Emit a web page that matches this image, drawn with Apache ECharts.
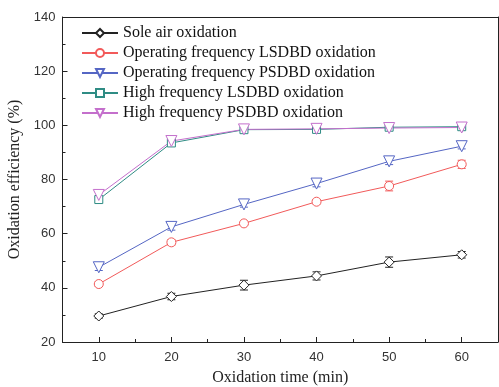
<!DOCTYPE html>
<html><head><meta charset="utf-8">
<script src="https://cdn.jsdelivr.net/npm/echarts@6/dist/echarts.min.js"></script>
<style>html,body{margin:0;padding:0;background:#fff}#c{width:499px;height:387px}</style>
</head><body><div id="c"></div>
<script>
var times = [10, 20, 30, 40, 50, 60];
var xTickLabels = ['10', '20', '30', '40', '50', '60'];
var seriesNames = ['Sole air oxidation', 'Operating frequency LSDBD oxidation', 'Operating frequency PSDBD oxidation', 'High frequency LSDBD oxidation', 'High frequency PSDBD oxidation'];
var soleAir = [29.6, 36.8, 41.0, 44.4, 49.5, 52.2];
var opLSDBD = [41.4, 56.8, 63.8, 71.8, 77.6, 85.6];
var opPSDBD = [47.6, 62.5, 70.8, 78.5, 86.7, 92.3];
var hfLSDBD = [72.6, 93.5, 98.4, 98.5, 99.3, 99.5];
var hfPSDBD = [74.3, 94.2, 98.5, 98.7, 99.0, 99.2];
var soleAirErr = [0.8, 1.2, 1.8, 1.5, 1.9, 1.2];
var opLSDBDErr = [0.8, 1.0, 0.8, 0.8, 1.8, 1.5];
var opPSDBDErr = [1.2, 1.2, 1.0, 1.2, 1.2, 1.0];
var hfLSDBDErr = [1.0, 0.8, 0.8, 0.8, 0.6, 0.6];
var hfPSDBDErr = [1.0, 0.8, 0.8, 0.8, 0.6, 0.6];

var values = [soleAir, opLSDBD, opPSDBD, hfLSDBD, hfPSDBD];
var errs = [soleAirErr, opLSDBDErr, opPSDBDErr, hfLSDBDErr, hfPSDBDErr];
var colors = ['#222222', '#f25a5a', '#5566c4', '#2f8c84', '#c46fcc'];
var symbols = ['diamond', 'circle', 'triangle', 'rect', 'triangle'];
var rotates = [0, 0, 180, 0, 180];
var sizes = [10, 9, 11, 8, 11];

var series = [];
values.forEach(function (v, i) {
  series.push({
    name: seriesNames[i], type: 'line',
    data: times.map(function (t, k) { return [t, v[k]]; }),
    symbol: symbols[i], symbolSize: sizes[i], symbolRotate: rotates[i],
    lineStyle: { color: colors[i], width: 1 },
    itemStyle: { color: '#fff', borderColor: colors[i], borderWidth: 1 },
    z: 3
  });
  series.push({
    type: 'custom', silent: true, z: 2,
    data: times.map(function (t, k) { return [t, v[k], errs[i][k]]; }),
    renderItem: function (params, api) {
      var x = api.value(0), y = api.value(1), e = api.value(2);
      var hi = api.coord([x, y + e]), lo = api.coord([x, y - e]);
      var w = 4;
      var st = { stroke: colors[i], lineWidth: 1 };
      return { type: 'group', children: [
        { type: 'line', shape: { x1: hi[0], y1: hi[1], x2: lo[0], y2: lo[1] }, style: st },
        { type: 'line', shape: { x1: hi[0] - w, y1: hi[1], x2: hi[0] + w, y2: hi[1] }, style: st },
        { type: 'line', shape: { x1: lo[0] - w, y1: lo[1], x2: lo[0] + w, y2: lo[1] }, style: st }
      ]};
    }
  });
});

var chart = echarts.init(document.getElementById('c'), null, { renderer: 'canvas' });
var axisLine = { show: true, lineStyle: { color: '#222', width: 1 } };
chart.setOption({
  animation: false,
  backgroundColor: '#fff',
  grid: { left: 62.5, right: 1, top: 17, bottom: 45, containLabel: false, outerBoundsMode: 'none' },
  legend: {
    orient: 'vertical', left: 76, top: 20, itemWidth: 36, itemHeight: 10, itemGap: 4,
    data: seriesNames,
    textStyle: { fontFamily: 'Liberation Serif', fontSize: 16, color: '#111' }
  },
  xAxis: [{
    type: 'value', position: 'bottom', min: 5, max: 65, interval: 5,
    name: 'Oxidation time (min)', nameLocation: 'middle', nameGap: 28,
    nameTextStyle: { fontFamily: 'Liberation Serif', fontSize: 16, color: '#222' },
    axisLine: axisLine,
    axisTick: { show: false },
    axisLabel: { color: '#333', fontFamily: 'Liberation Sans', fontSize: 13, margin: 9,
      formatter: function (v) { var s = String(v); return xTickLabels.indexOf(s) >= 0 ? s : ''; } },
    splitLine: { show: false }
  }, {
    type: 'value', position: 'bottom', min: 5, max: 65, interval: 10,
    axisLine: { show: false },
    axisTick: { show: true, inside: true, length: 3, lineStyle: { color: '#222' } },
    minorTick: { show: true, splitNumber: 2, length: 5, lineStyle: { color: '#222' } },
    axisLabel: { show: false }, splitLine: { show: false }
  }, {
    type: 'value', position: 'top', min: 5, max: 65,
    axisLine: axisLine, axisTick: { show: false }, axisLabel: { show: false }, splitLine: { show: false }
  }],
  yAxis: [{
    type: 'value', position: 'left', min: 20, max: 140, interval: 20,
    name: 'Oxidation efficiency (%)', nameLocation: 'middle', nameGap: 36,
    nameTextStyle: { fontFamily: 'Liberation Serif', fontSize: 16, color: '#222' },
    axisLine: axisLine,
    axisTick: { show: true, inside: true, length: 5, lineStyle: { color: '#222' } },
    minorTick: { show: true, splitNumber: 2, length: 3, lineStyle: { color: '#222' } },
    axisLabel: { color: '#333', fontFamily: 'Liberation Sans', fontSize: 13, margin: 7 },
    splitLine: { show: false }
  }, {
    type: 'value', position: 'right', min: 20, max: 140,
    axisLine: axisLine, axisTick: { show: false }, axisLabel: { show: false }, splitLine: { show: false }
  }],
  series: series
});
</script></body></html>
